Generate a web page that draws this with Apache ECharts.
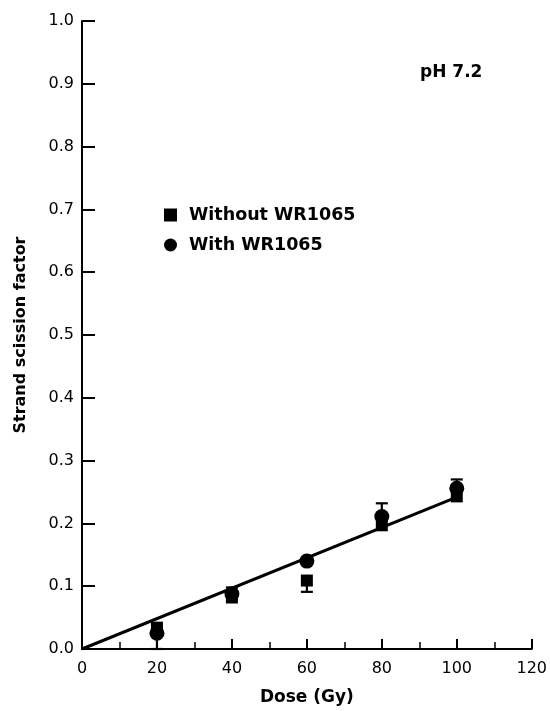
<!DOCTYPE html>
<html>
<head>
<meta charset="utf-8">
<script src="https://cdn.jsdelivr.net/npm/echarts@6/dist/echarts.min.js"></script>
<style>html,body{margin:0;padding:0;background:#fff;}#c{width:550px;height:711px;}</style>
</head>
<body>
<div id="c"></div>
<script>
const doses = [20, 40, 60, 80, 100];
const withoutWR = [0.034, 0.082, 0.109, 0.197, 0.243];
const withWR = [0.025, 0.088, 0.140, 0.211, 0.256];
const fitLine = [[0, 0], [100, 0.242]];
// error bars: [dose, from, to]
const errWithout = [[60, 0.109, 0.091]];
const errWith = [[20, 0.025, 0.0], [40, 0.088, 0.098], [80, 0.211, 0.232], [100, 0.256, 0.270]];
const xTicks = [0, 20, 40, 60, 80, 100, 120];
const yTicks = [0, 0.1, 0.2, 0.3, 0.4, 0.5, 0.6, 0.7, 0.8, 0.9, 1.0];

const font = '"DejaVu Sans", Verdana, sans-serif';
const chart = echarts.init(document.getElementById('c'), null, {renderer: 'canvas'});

function errRender(params, api) {
  const x = api.value(0), a = api.value(1), b = api.value(2);
  const p1 = api.coord([x, a]), p2 = api.coord([x, b]);
  const hw = 6;
  return {
    type: 'group',
    children: [
      {type: 'line', shape: {x1: p1[0], y1: p1[1], x2: p2[0], y2: p2[1]}, style: {stroke: '#000', lineWidth: 2.2}},
      {type: 'line', shape: {x1: p2[0] - hw, y1: p2[1], x2: p2[0] + hw, y2: p2[1]}, style: {stroke: '#000', lineWidth: 2.2}}
    ]
  };
}

chart.setOption({
  animation: false,
  backgroundColor: '#fff',
  textStyle: {fontFamily: font},
  grid: {left: 82, right: 18, top: 21, bottom: 59, containLabel: false},
  legend: {
    left: 164, top: 206, orient: 'vertical', itemGap: 12, padding: 0,
    itemWidth: 13, itemHeight: 13, selectedMode: false,
    textStyle: {fontFamily: font, fontSize: 17.5, fontWeight: 'bold', color: '#000', padding: [0, 0, 0, 7]},
    data: [
      {name: 'Without WR1065', icon: 'rect'},
      {name: 'With WR1065', icon: 'circle'}
    ]
  },
  graphic: [{
    type: 'text', x: 420, y: 73,
    style: {text: 'pH 7.2', font: 'bold 17px ' + font, fill: '#000', verticalAlign: 'middle'}
  }],
  xAxis: {
    type: 'value', min: 0, max: 120, interval: 20,
    name: 'Dose (Gy)', nameLocation: 'middle', nameGap: 40,
    nameTextStyle: {fontFamily: font, fontSize: 17, fontWeight: 'bold', color: '#000'},
    axisLine: {onZero: false, lineStyle: {color: '#000', width: 2}},
    axisTick: {show: true, inside: true, length: 10, lineStyle: {color: '#000', width: 2}},
    minorTick: {show: true, splitNumber: 2, length: 7, lineStyle: {color: '#000', width: 1.5}},
    axisLabel: {color: '#000', fontSize: 16, margin: 12, fontFamily: font,
      formatter: v => xTicks.includes(v) ? String(v) : ''},
    splitLine: {show: false}
  },
  yAxis: {
    type: 'value', min: 0, max: 1.0, interval: 0.1,
    name: 'Strand scission factor', nameLocation: 'middle', nameGap: 53,
    nameTextStyle: {fontFamily: font, fontSize: 16, fontWeight: 'bold', color: '#000'},
    axisLine: {show: true, onZero: false, lineStyle: {color: '#000', width: 2}},
    axisTick: {show: true, inside: true, length: 13, lineStyle: {color: '#000', width: 2}},
    axisLabel: {color: '#000', fontSize: 16, margin: 8, fontFamily: font,
      formatter: v => {
        const t = yTicks.find(k => Math.abs(k - v) < 1e-9);
        return t === undefined ? '' : t.toFixed(1);
      }},
    splitLine: {show: false}
  },
  series: [
    {
      type: 'line', data: fitLine, symbol: 'none', silent: true,
      lineStyle: {color: '#000', width: 3}, z: 1
    },
    {
      type: 'custom', renderItem: errRender, data: errWithout, z: 2, silent: true,
      encode: {x: 0, y: [1, 2]}
    },
    {
      type: 'custom', renderItem: errRender, data: errWith, z: 2, silent: true,
      encode: {x: 0, y: [1, 2]}
    },
    {
      name: 'Without WR1065', type: 'scatter', symbol: 'rect', symbolSize: 12,
      data: doses.map((d, i) => [d, withoutWR[i]]),
      itemStyle: {color: '#000', opacity: 1}, z: 3
    },
    {
      name: 'With WR1065', type: 'scatter', symbol: 'circle', symbolSize: 15,
      data: doses.map((d, i) => [d, withWR[i]]),
      itemStyle: {color: '#000', opacity: 1}, z: 4
    }
  ]
});
</script>
</body>
</html>
